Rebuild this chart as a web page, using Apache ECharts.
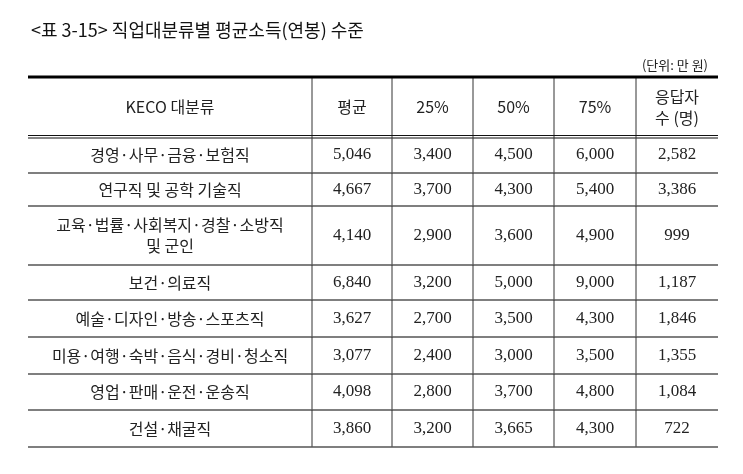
<!DOCTYPE html>
<html><head><meta charset="utf-8">
<script src="https://cdn.jsdelivr.net/npm/echarts@6/dist/echarts.min.js"></script>
<style>html,body{margin:0;padding:0;background:#fff}#c{width:743px;height:474px}</style>
</head><body><div id="c"></div>
<script>
const headers = ['KECO 대분류','평균','25%','50%','75%','응답자\n수 (명)'];
const categories = ['경영·사무·금융·보험직','연구직 및 공학 기술직','교육·법률·사회복지·경찰·소방직\n및 군인','보건·의료직','예술·디자인·방송·스포츠직','미용·여행·숙박·음식·경비·청소직','영업·판매·운전·운송직','건설·채굴직'];
const mean = [5046,4667,4140,6840,3627,3077,4098,3860];
const p25 = [3400,3700,2900,3200,2700,2400,2800,3200];
const p50 = [4500,4300,3600,5000,3500,3000,3700,3665];
const p75 = [6000,5400,4900,9000,4300,3500,4800,4300];
const respondents = [2582,3386,999,1187,1846,1355,1084,722];

const colEdges = [0,284,364,445,526,608,690];
const rowEdges = [0,60,96,129,188,223,260,297,333,370];
const fmt = v => v.toLocaleString('en-US');
const cells = [];
headers.forEach((h,c)=>cells.push([c,0,h]));
categories.forEach((cat,i)=>{
  const vals=[cat,fmt(mean[i]),fmt(p25[i]),fmt(p50[i]),fmt(p75[i]),fmt(respondents[i])];
  vals.forEach((v,c)=>cells.push([c,i+1,v]));
});
const chart = echarts.init(document.getElementById('c'));
chart.setOption({
  animation:false,
  title:[{text:'<표 3-15> 직업대분류별 평균소득(연봉) 수준',left:26,top:16,textStyle:{fontFamily:'Noto Sans CJK KR',fontSize:18,fontWeight:'normal',color:'#111'}},
         {text:'(단위: 만 원)',right:30,top:54,textStyle:{fontFamily:'Noto Sans CJK KR',fontSize:13,fontWeight:'normal',color:'#222'}}],
  grid:{left:28,right:25,top:77,bottom:27},
  xAxis:{type:'value',min:0,max:690,show:false},
  yAxis:{type:'value',min:0,max:370,inverse:true,show:false},
  series:[{type:'custom',data:cells,clip:false,
    renderItem:(params,api)=>{
      const c=api.value(0), r=api.value(1), t=cells[params.dataIndex][2];
      const p0=api.coord([colEdges[c],rowEdges[r]]), p1=api.coord([colEdges[c+1],rowEdges[r+1]]);
      const ch=[];
      const isNum = r>0 && c>0;
      ch.push({type:'text',style:{text:t,x:(p0[0]+p1[0])/2,y:(p0[1]+p1[1])/2,align:'center',verticalAlign:'middle',
        fontFamily:isNum?'Liberation Serif':'Noto Sans CJK KR',fontSize:isNum?17:16,lineHeight:21,fill:'#222'}});
      if(c<5) ch.push({type:'line',shape:{x1:p1[0],y1:p0[1],x2:p1[0],y2:p1[1]},style:{stroke:'#333',lineWidth:1}});
      if(r===0){
        ch.push({type:'line',shape:{x1:p0[0],y1:p0[1],x2:p1[0],y2:p0[1]},style:{stroke:'#000',lineWidth:3}});
        ch.push({type:'line',shape:{x1:p0[0],y1:p1[1]-1.5,x2:p1[0],y2:p1[1]-1.5},style:{stroke:'#111',lineWidth:1.2}});
        ch.push({type:'line',shape:{x1:p0[0],y1:p1[1]+1,x2:p1[0],y2:p1[1]+1},style:{stroke:'#111',lineWidth:1.2}});
      } else {
        ch.push({type:'line',shape:{x1:p0[0],y1:p1[1],x2:p1[0],y2:p1[1]},style:{stroke:'#555',lineWidth:1.5}});
      }
      return {type:'group',children:ch};
    }}]
});
</script></body></html>
